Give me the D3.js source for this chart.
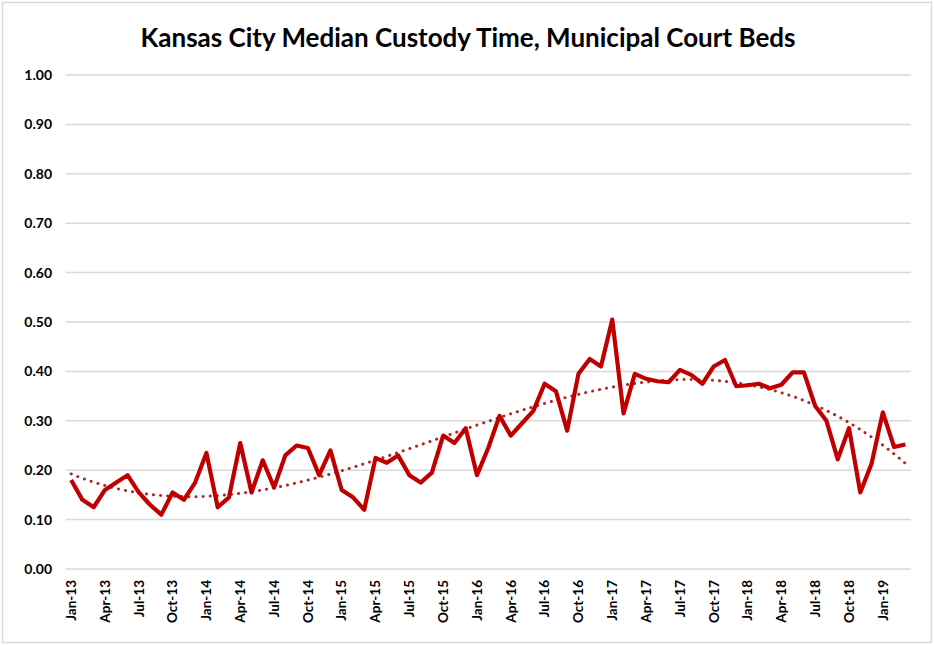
<!DOCTYPE html>
<html lang="en">
<head>
<meta charset="UTF-8">
<title>Kansas City Median Custody Time</title>
<script src="https://cdn.jsdelivr.net/npm/d3@7"></script>
<style>
    body{ margin:0; background:white; }
    text{ font-family: Lato, "Open Sans", sans-serif; fill:#000; }
</style>
</head>
<body>
<script>

var monthNames = ["Jan","Feb","Mar","Apr","May","Jun","Jul","Aug","Sep","Oct","Nov","Dec"];

// Jan-13 .. Mar-19, one label per month
var months = [];
for (var y = 13; y <= 19; y++) {
    monthNames.forEach(function(m, i){
        if (y == 19 && i > 2) return;
        months.push(m + "-" + y);
    });
}

var custody = [
    0.180, 0.140, 0.125, 0.160, 0.175, 0.190, 0.155, 0.130, 0.110, 0.155, 0.140, 0.175,
    0.235, 0.125, 0.145, 0.255, 0.155, 0.220, 0.165, 0.230, 0.250, 0.245, 0.190, 0.240,
    0.160, 0.145, 0.120, 0.225, 0.215, 0.230, 0.190, 0.175, 0.195, 0.270, 0.255, 0.285,
    0.190, 0.245, 0.310, 0.270, 0.295, 0.320, 0.375, 0.360, 0.280, 0.395, 0.425, 0.410,
    0.505, 0.315, 0.395, 0.385, 0.380, 0.378, 0.403, 0.393, 0.375, 0.410, 0.423, 0.370,
    0.372, 0.375, 0.366, 0.373, 0.398, 0.398, 0.330, 0.300, 0.222, 0.285, 0.155, 0.213,
    0.317, 0.247, 0.252
];

var yTicks = [0, 0.1, 0.2, 0.3, 0.4, 0.5, 0.6, 0.7, 0.8, 0.9, 1.0];

var width = 934, height = 645;
var margin = {left: 65.5, right: 23, top: 75, bottom: 76};

var svg = d3.select("body").append("svg")
    .attr("width", width)
    .attr("height", height);

svg.append("rect")
    .attr("x", 2.5).attr("y", 2.5)
    .attr("width", width - 5).attr("height", height - 5)
    .style("fill", "white")
    .style("stroke", "#d9d9d9")
    .style("stroke-width", 1.5);

var x = d3.scaleBand()
    .domain(months)
    .range([margin.left, width - margin.right]);

var yScale = d3.scaleLinear()
    .domain([0, 1])
    .range([height - margin.bottom, margin.top]);

// gridlines
svg.append("g").selectAll("line")
    .data(yTicks).enter().append("line")
    .attr("x1", margin.left)
    .attr("x2", width - margin.right)
    .attr("y1", function(d){ return yScale(d); })
    .attr("y2", function(d){ return yScale(d); })
    .style("stroke", "#d9d9d9")
    .style("stroke-width", 1.5);

// y axis labels
svg.append("g").selectAll("text")
    .data(yTicks).enter().append("text")
    .attr("x", 52)
    .attr("y", function(d){ return yScale(d); })
    .attr("dy", "0.35em")
    .attr("text-anchor", "end")
    .style("font-size", "14px")
    .style("font-weight", "bold")
    .text(function(d){ return d3.format(".2f")(d); });

// x axis labels, every third month
svg.append("g").selectAll("text")
    .data(months.filter(function(d, i){ return i % 3 == 0; }))
    .enter().append("text")
    .attr("transform", function(d){
        return "translate(" + (x(d) + x.bandwidth()/2 + 4.8) + "," + (height - margin.bottom + 11) + ") rotate(-90)";
    })
    .attr("text-anchor", "end")
    .style("font-size", "13.5px")
    .style("font-weight", "bold")
    .text(function(d){ return d; });

// title
svg.append("text")
    .attr("x", 468)
    .attr("y", 47)
    .attr("text-anchor", "middle")
    .style("font-size", "26px")
    .style("font-weight", "bold")
    .text("Kansas City Median Custody Time, Municipal Court Beds");

// polynomial trendline (order 3, least squares)
function polyFit(ys, order) {
    var n = ys.length, m = order + 1;
    var A = [], b = [];
    for (var r = 0; r < m; r++) { A.push(new Array(m).fill(0)); b.push(0); }
    ys.forEach(function(v, i){
        var t = i / (n - 1);
        for (var r = 0; r < m; r++) {
            for (var c = 0; c < m; c++) A[r][c] += Math.pow(t, r + c);
            b[r] += v * Math.pow(t, r);
        }
    });
    for (var k = 0; k < m; k++) {
        for (var r = k + 1; r < m; r++) {
            var f = A[r][k] / A[k][k];
            for (var c = k; c < m; c++) A[r][c] -= f * A[k][c];
            b[r] -= f * b[k];
        }
    }
    var coef = new Array(m).fill(0);
    for (var k = m - 1; k >= 0; k--) {
        var s = b[k];
        for (var c = k + 1; c < m; c++) s -= A[k][c] * coef[c];
        coef[k] = s / A[k][k];
    }
    return function(i){
        var t = i / (n - 1), s = 0;
        coef.forEach(function(c, p){ s += c * Math.pow(t, p); });
        return s;
    };
}

var trend = polyFit(custody, 3);
var cx = function(i){ return x(months[i]) + x.bandwidth()/2; };

var trendPts = d3.range(0, custody.length - 1 + 0.001, 0.25);

svg.append("path")
    .datum(trendPts)
    .attr("d", d3.line()
        .x(function(t){ return x(months[0]) + x.bandwidth()/2 + t * x.step(); })
        .y(function(t){ return yScale(trend(t)); }))
    .style("fill", "none")
    .style("stroke", "#b02828")
    .style("stroke-width", 3)
    .style("stroke-linecap", "round")
    .style("stroke-dasharray", "0.1 7");

svg.append("path")
    .datum(custody)
    .attr("d", d3.line()
        .x(function(d, i){ return cx(i); })
        .y(function(d){ return yScale(d); }))
    .style("fill", "none")
    .style("stroke", "#c00000")
    .style("stroke-width", 4.2)
    .style("stroke-linejoin", "round");

</script>
</body>
</html>
